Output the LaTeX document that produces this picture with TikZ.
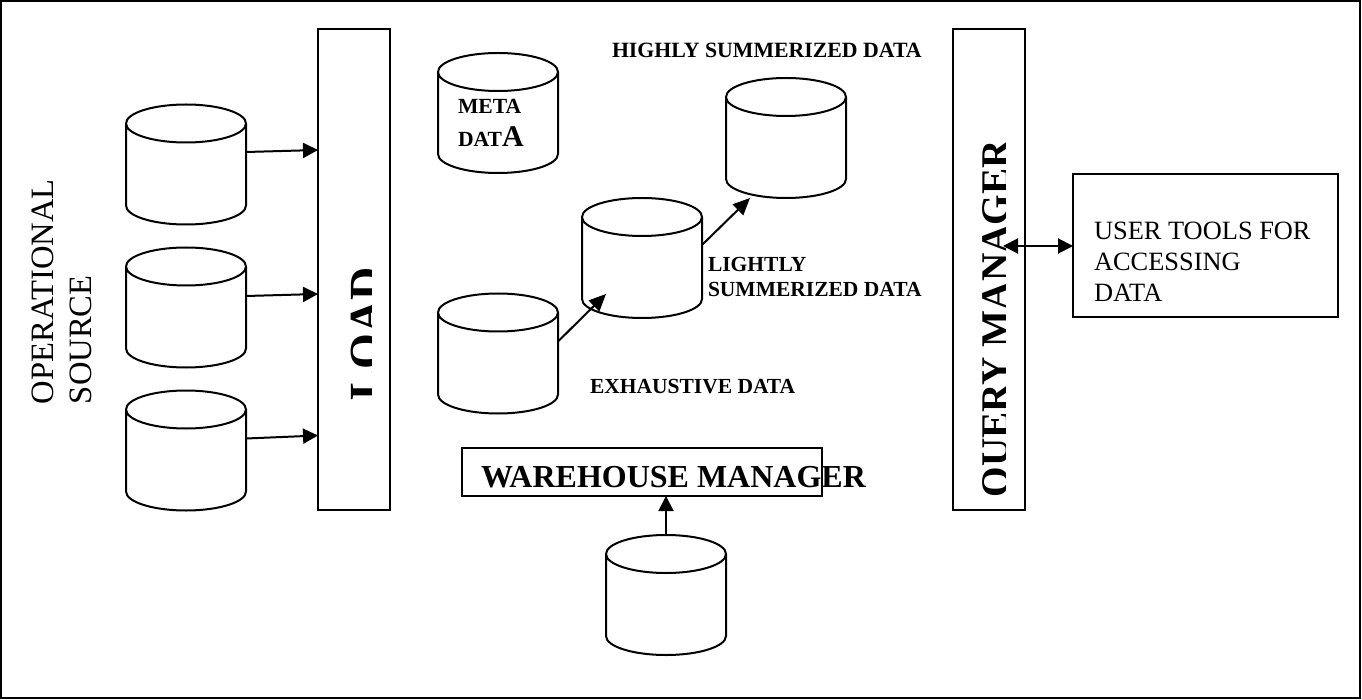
\documentclass[tikz,border=0pt]{standalone}
\usepackage{fontspec}
\setmainfont{Liberation Serif}
\usetikzlibrary{arrows.meta}
\tikzset{
  line/.style={draw=black,line width=2pt},
  cylbox/.style={inner sep=0pt,outer sep=0pt,minimum width=120pt,minimum height=120pt,anchor=center},
  boxn/.style={line,inner sep=0pt,outer sep=0pt,anchor=north west},
  conn/.style={line,-{Triangle[length=15pt,width=15pt]}},
  diagconn/.style={line,-{Triangle[length=17pt,width=15pt]}},
  biconn/.style={line,{Triangle[length=15pt,width=15pt]}-{Triangle[length=15pt,width=15pt]}},
  lab/.style={inner sep=0pt,outer sep=0pt,anchor=base west},
  boldlab/.style={lab,font=\fontsize{21.5}{24.5}\selectfont\bfseries},
  mlab/.style={inner sep=0pt,outer sep=0pt,anchor=north west,align=left}
}
\newcommand{\drumnode}[3]{%
  \node[cylbox] (#1) at (#2,#3) {};
  \draw[line,line join=round] ([yshift=-19pt]#1.north west) -- ([yshift=19pt]#1.south west)
    arc[start angle=180,end angle=0,x radius=60,y radius=19]
    -- ([yshift=-19pt]#1.north east)
    arc[start angle=0,end angle=-180,x radius=60,y radius=19]
    arc[start angle=180,end angle=0,x radius=60,y radius=19];
}
\begin{document}
\begin{tikzpicture}[x=1pt,y=-1pt]
\useasboundingbox (0,0) rectangle (1362,700);
\node[boxn,minimum width=1359pt,minimum height=697pt] (frame) at (1,1) {};
% operational source
\drumnode{c1}{186}{164.5}
\drumnode{c2}{186}{307.5}
\drumnode{c3}{186}{450.5}
\node[mlab,rotate=90,anchor=south west,font=\fontsize{32.6}{38}\selectfont] (op) at (92,404) {OPERATIONAL\\SOURCE};
% load
\node[boxn,minimum width=72pt,minimum height=481pt] (load) at (318,29) {};
\begin{scope}
\clip (318,29) rectangle (371,510);
\node[lab,rotate=90,font=\fontsize{46}{50}\selectfont\bfseries] (loadt) at (381,400) {LOAD};
\end{scope}
% storage
\drumnode{meta}{498}{113}
\node[lab,font=\fontsize{21.6}{25}\selectfont\bfseries] (metat) at (458,114) {META};
\node[lab,font=\fontsize{21.6}{25}\selectfont\bfseries] (datat) at (458,147) {DAT{\fontsize{30}{32}\selectfont A}};
\drumnode{high}{786}{138}
\drumnode{light}{642}{258}
\drumnode{exh}{498}{353.5}
\node[lab,font=\fontsize{21.8}{25}\selectfont\bfseries] (hight) at (612,57.5) {HIGHLY SUMMERIZED DATA};
\node[mlab,font=\fontsize{21.5}{24.5}\selectfont\bfseries] (lightt) at (708,257.5) {LIGHTLY\\SUMMERIZED DATA};
\node[boldlab] (exht) at (590,393.5) {EXHAUSTIVE DATA};
% warehouse
\node[boxn,minimum width=360pt,minimum height=48pt] (wm) at (462,448) {};
\node[lab,font=\fontsize{32}{36}\selectfont\bfseries] (wmt) at (481,487) {WAREHOUSE MANAGER};
\drumnode{wh}{666}{595}
% query
\node[boxn,minimum width=72pt,minimum height=481pt] (qm) at (953,29) {};
\begin{scope}
\clip (953,29) rectangle (1005,510);
\node[lab,rotate=90,font=\fontsize{39.2}{44}\selectfont\bfseries] (qmt) at (1008,497) {QUERY MANAGER};
\end{scope}
% user tools
\node[boxn,minimum width=265pt,minimum height=143pt] (user) at (1073,174) {};
\node[mlab,font=\fontsize{26.4}{31}\selectfont] (usert) at (1094,222) {USER TOOLS FOR\\ACCESSING\\DATA};
% connectors
\coordinate (qmend) at (1003,246);
\draw[conn] ([yshift=12.5pt]c1.east) -- ([yshift=14.5pt]c1.east -| load.west);
\draw[conn] ([yshift=11.5pt]c2.east) -- ([yshift=13.5pt]c2.east -| load.west);
\draw[conn] ([yshift=12pt]c3.east) -- ([yshift=15pt]c3.east -| load.west);
\draw[diagconn] ([yshift=12pt]exh.east) -- ([xshift=24pt,yshift=-36pt]light.west);
\draw[diagconn] ([yshift=13pt]light.east) -- ([xshift=-36pt]high.south);
\draw[conn] (wh.north) -- (wm.south -| wh.north);
\draw[biconn] (qmend) -- (qmend -| user.west);
\end{tikzpicture}
\end{document}
